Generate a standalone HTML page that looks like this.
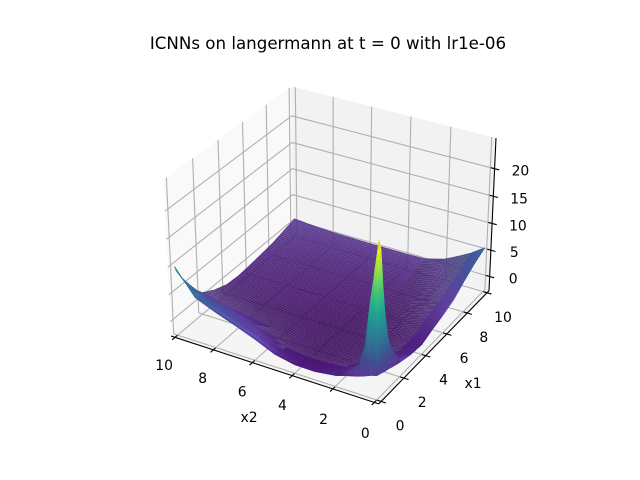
<!DOCTYPE html>
<html>
<head>
<meta charset="utf-8">
<title>ICNNs on langermann</title>
<style>
html,body{margin:0;padding:0;background:#fff;width:640px;height:480px;overflow:hidden}
svg{display:block}
text{font-family:"DejaVu Sans","Liberation Sans",sans-serif;fill:#000}
</style>
</head>
<body>
<svg id="chart" width="640" height="480" viewBox="0 0 640 480" xmlns="http://www.w3.org/2000/svg">
<rect width="640" height="480" fill="#fff"/>
<text x="328" y="49" font-size="16.67" text-anchor="middle">ICNNs on langermann at t = 0 with lr1e-06</text>
<text x="249" y="422" font-size="13.9" text-anchor="middle">x2</text>
<text x="473" y="388" font-size="13.9" text-anchor="middle">x1</text>
</svg>
<script>
const x2Ticks = [0, 2, 4, 6, 8, 10];
const x1Ticks = [0, 2, 4, 6, 8, 10];
const zTicks = [0, 5, 10, 15, 20];
const x2Grid = [0, 0.05, 0.25, 0.45, 0.65, 0.95, 1.25, 2, 3, 4, 5, 6, 7, 8, 9, 10];
const x1Grid = [0, 0.1, 0.3, 0.5, 0.7, 1, 1.3, 2, 3, 4, 5, 6, 7, 8, 9, 10];
const zValues = [
[1.7,1.6,1.4,1.1,0.8,0.4,0.1,-0.7,-1.2,-1.15,-0.4,1.2,2.6,3.9,5.4,10],
[1.6,24.9,19,13,6,2.3,1.1,-0.8,-1.3,-1.3,-0.5,1.1,2.5,3.8,5.2,9],
[1.4,22.9,14,9,4.5,1.9,0.8,-0.9,-1.4,-1.4,-0.6,1,2.4,3.7,5,8],
[1.2,16.5,10,6.5,3.2,1.4,0.5,-1,-1.5,-1.5,-0.8,0.7,2.1,3.4,4.8,7],
[1,11.5,7,4.5,2.2,1,0.2,-1.1,-1.6,-1.6,-1,0.5,1.8,3.1,4.4,6],
[0.8,6.5,4,2.6,1.3,0.5,-0.1,-1.3,-1.7,-1.8,-1.2,-0.1,1,2.2,3.4,4.6],
[0.5,4,2.2,1.3,0.7,0.1,-0.4,-1.5,-1.9,-1.9,-1.5,-0.6,0.4,1.3,2.4,3.4],
[-0.1,0.5,0.2,0,-0.2,-0.6,-1,-1.7,-2,-2.1,-1.9,-1.4,-0.8,-0.2,0.5,1.4],
[-0.7,-0.7,-0.8,-0.9,-1,-1.2,-1.4,-1.9,-2.1,-2.1,-2.1,-1.8,-1.5,-1.1,-0.6,0],
[-0.95,-1,-1.1,-1.2,-1.3,-1.5,-1.6,-2,-2.1,-2.16,-2.16,-2,-1.8,-1.6,-1.3,-0.9],
[-0.1,-0.2,-0.4,-0.6,-0.7,-1,-1.2,-1.8,-2,-2.1,-2.1,-2,-1.8,-1.6,-1.4,-1.1],
[0.6,0.6,0.4,0.2,0,-0.3,-0.7,-1.4,-1.8,-1.9,-1.9,-1.8,-1.7,-1.5,-1.3,-0.9],
[1.5,1.5,1.2,0.9,0.6,0.2,-0.2,-1,-1.4,-1.6,-1.6,-1.5,-1.4,-1.2,-1,-0.6],
[3.1,3,2.5,2.1,1.7,1.1,0.6,-0.4,-1,-1.2,-1.2,-1.1,-1,-0.9,-0.6,-0.3],
[4.5,4.4,3.9,3.4,2.9,2.3,1.8,0.5,-0.4,-0.6,-0.6,-0.6,-0.5,-0.4,-0.2,0.3],
[5.6,5.5,5,4.5,4,3.4,2.8,1.4,0.4,0.3,0.3,0.3,0.35,0.4,0.6,0.9]
];
const viridisStops = [[62,12,98],[84,56,140],[62,74,137],[49,104,142],[38,130,142],[31,158,137],[53,183,121],[110,206,88],[181,222,43],[253,231,37]];

const svg = document.getElementById('chart');
const NS = 'http://www.w3.org/2000/svg';
const allZ = zValues.flat();
const zMin = Math.min(...allZ), zMax = Math.max(...allZ);
const zPad = (zMax - zMin) / 48;
const zLo = zMin - zPad, zHi = zMax + zPad;
const x2Pad = (x2Grid[x2Grid.length-1] - x2Grid[0]) / 48;
const x2Lo = x2Grid[0] - x2Pad, x2Hi = x2Grid[x2Grid.length-1] + x2Pad;
const x1Pad = (x1Grid[x1Grid.length-1] - x1Grid[0]) / 48;
const x1Lo = x1Grid[0] - x1Pad, x1Hi = x1Grid[x1Grid.length-1] + x1Pad;

const boxScale = 1.8294640721620434 * 25 / 24 / Math.sqrt(41);
const box = [4*boxScale, 4*boxScale, 3*boxScale];
const R = box.map(v => v/2);
const el = 30*Math.PI/180, az = -60*Math.PI/180;
const W = [Math.cos(el)*Math.cos(az), Math.cos(el)*Math.sin(az), Math.sin(el)];
const U = [0.866025, 0.5, 0];
const V = [W[1]*U[2]-W[2]*U[1], W[2]*U[0]-W[0]*U[2], W[0]*U[1]-W[1]*U[0]];
function dot(a,b){ return a[0]*b[0]+a[1]*b[1]+a[2]*b[2]; }
function xScale(x2){ return (x2Hi-x2)/(x2Hi-x2Lo)*box[0]; }
function yScale(x1){ return (x1-x1Lo)/(x1Hi-x1Lo)*box[1]; }
function zScale(z){ return (z-zLo)/(zHi-zLo)*box[2]; }
function projectBox(b){
  const d = [b[0]-R[0], b[1]-R[1], b[2]-R[2]];
  const den = 10 - dot(W,d);
  const px = 143.2 + (dot(U,d)/den + 0.095)/0.185*369.6;
  const py = 480 - (52.8 + (dot(V,d)/den + 0.095)/0.185*369.6);
  return [px, py, dot(W,d)];
}
function project(x2,x1,z){ return projectBox([xScale(x2), yScale(x1), zScale(z)]); }

function colorAt(t, fac){
  const s = Math.max(0, Math.min(0.9999, t)) * (viridisStops.length-1);
  const i = Math.floor(s), f = s-i;
  const a = viridisStops[i], b = viridisStops[i+1];
  const c = [0,1,2].map(k => Math.min(255, Math.round((a[k]+(b[k]-a[k])*f)*fac)));
  return 'rgb('+c[0]+','+c[1]+','+c[2]+')';
}

function addLine(p, q, stroke, width, name){
  const l = document.createElementNS(NS,'line');
  l.setAttribute('x1',p[0].toFixed(2));
  l.setAttribute('y1',p[1].toFixed(2));
  l.setAttribute('x2',q[0].toFixed(2));
  l.setAttribute('y2',q[1].toFixed(2));
  l.setAttribute('stroke',stroke);
  l.setAttribute('stroke-width',width);
  
  
  svg.appendChild(l);
}
function addPane(pts, fill, name){
  const g = document.createElementNS(NS,'polygon');
  g.setAttribute('points', pts.map(p => p[0].toFixed(2)+','+p[1].toFixed(2)).join(' '));
  g.setAttribute('fill', fill);
  
  
  svg.appendChild(g);
}
function addLabel(x, y, str, anchor, name){
  const t = document.createElementNS(NS,'text');
  t.setAttribute('x', x.toFixed(1));
  t.setAttribute('y', y.toFixed(1));
  t.setAttribute('font-size', '13.9');
  t.setAttribute('text-anchor', anchor);
  t.textContent = str;
  
  
  svg.appendChild(t);
}

// panes
addPane([project(x2Hi,x1Lo,zLo),project(x2Hi,x1Hi,zLo),project(x2Hi,x1Hi,zHi),project(x2Hi,x1Lo,zHi)],'#f9f9f9','left-pane');
addPane([project(x2Hi,x1Hi,zLo),project(x2Lo,x1Hi,zLo),project(x2Lo,x1Hi,zHi),project(x2Hi,x1Hi,zHi)],'#f2f2f2','back-pane');
addPane([project(x2Hi,x1Lo,zLo),project(x2Lo,x1Lo,zLo),project(x2Lo,x1Hi,zLo),project(x2Hi,x1Hi,zLo)],'#f5f5f5','floor-pane');

// grid lines
const gridColor = '#b0b0b0';
x2Ticks.forEach(v => {
  addLine(project(v,x1Lo,zLo),project(v,x1Hi,zLo),gridColor,1.1,'x2-grid-floor');
  addLine(project(v,x1Hi,zLo),project(v,x1Hi,zHi),gridColor,1.1,'x2-grid-wall');
});
x1Ticks.forEach(v => {
  addLine(project(x2Lo,v,zLo),project(x2Hi,v,zLo),gridColor,1.1,'x1-grid-floor');
  addLine(project(x2Hi,v,zLo),project(x2Hi,v,zHi),gridColor,1.1,'x1-grid-wall');
});
zTicks.forEach(v => {
  addLine(project(x2Hi,x1Lo,v),project(x2Hi,x1Hi,v),gridColor,1.1,'z-grid-left');
  addLine(project(x2Hi,x1Hi,v),project(x2Lo,x1Hi,v),gridColor,1.1,'z-grid-back');
});

// axis lines
addLine(project(x2Hi,x1Lo,zLo),project(x2Lo,x1Lo,zLo),'#000',1.1,'x2-axis-line');
addLine(project(x2Lo,x1Lo,zLo),project(x2Lo,x1Hi,zLo),'#000',1.1,'x1-axis-line');
addLine(project(x2Lo,x1Hi,zLo),project(x2Lo,x1Hi,zHi),'#000',1.1,'z-axis-line');

// ticks and labels
const x2Span = x2Hi-x2Lo, x1Span = x1Hi-x1Lo;
x2Ticks.forEach(v => {
  addLine(project(v,x1Lo-0.022*x1Span,zLo),project(v,x1Lo+0.018*x1Span,zLo),'#000',1.1,'x2-tick');
  const p = project(v,x1Lo,zLo);
  const t = v/10;
  addLabel(p[0]-9-2*t, p[1]+35.5-3*t, String(v), 'middle', 'x2-tick-label');
});
x1Ticks.forEach(v => {
  addLine(project(x2Lo-0.022*x2Span,v,zLo),project(x2Lo+0.018*x2Span,v,zLo),'#000',1.1,'x1-tick');
  const p = project(x2Lo,v,zLo);
  const t = v/10;
  addLabel(p[0]+19-3*t, p[1]+29, String(v), 'middle', 'x1-tick-label');
});
zTicks.forEach(v => {
  addLine(project(x2Lo+0.018*x2Span,x1Hi,v),project(x2Lo-0.022*x2Span,x1Hi,v),'#000',1.1,'z-tick');
  const p = project(x2Lo,x1Hi,v);
  addLabel(p[0]+(v>=10?17:19), p[1]+7, String(v), 'start', 'z-tick-label');
});

// surface facets: every facet reads its height from zValues through the axis functions
function zAt(i,fi,j,fj){
  const i2 = Math.min(i+1, x1Grid.length-1), j2 = Math.min(j+1, x2Grid.length-1);
  const a = zValues[i][j], b = zValues[i][j2], c = zValues[i2][j], d = zValues[i2][j2];
  return (a*(1-fj)+b*fj)*(1-fi) + (c*(1-fj)+d*fj)*fi;
}
function samples(grid, jump){
  const out = [];
  for (let k=0;k<grid.length-1;k++){
    const n = Math.max(1, Math.ceil((grid[k+1]-grid[k])/0.125-1e-6), Math.ceil(jump(k)/1.5));
    for (let s=0;s<n;s++) out.push({k:k, f:s/n, v:grid[k]+(grid[k+1]-grid[k])*s/n});
  }
  out.push({k:grid.length-1, f:0, v:grid[grid.length-1]});
  return out;
}
function rowJump(k){
  let m = 0;
  for (let j=0;j<x2Grid.length;j++) m = Math.max(m, Math.abs(zValues[k+1][j]-zValues[k][j]));
  return m;
}
function colJump(k){
  let m = 0;
  for (let i=0;i<x1Grid.length;i++) m = Math.max(m, Math.abs(zValues[i][k+1]-zValues[i][k]));
  return m;
}
function screenArea(p){
  let a = 0;
  for (let k=0;k<4;k++){
    const n = p[(k+1)%4];
    a += p[k][0]*n[1]-n[0]*p[k][1];
  }
  return Math.abs(a)/2;
}
const s1 = samples(x1Grid, rowJump), s2 = samples(x2Grid, colJump);
const heights = s1.map(a => s2.map(b => zAt(a.k,a.f,b.k,b.f)));
const facets = [];
const light = [-0.667,-0.667,0.333];
for (let i=0;i<s1.length-1;i++){
  for (let j=0;j<s2.length-1;j++){
    const h00=heights[i][j], h01=heights[i][j+1], h10=heights[i+1][j], h11=heights[i+1][j+1];
    const p = [project(s2[j].v,s1[i].v,h00),project(s2[j+1].v,s1[i].v,h01),project(s2[j+1].v,s1[i+1].v,h11),project(s2[j].v,s1[i+1].v,h10)];
    const dzdx2 = ((h01-h00)+(h11-h10))/2/(s2[j+1].v-s2[j].v);
    const dzdx1 = ((h10-h00)+(h11-h01))/2/(s1[i+1].v-s1[i].v);
    const nlen = Math.sqrt(dzdx2*dzdx2+dzdx1*dzdx1+1);
    const shade = (-dzdx2*light[0]-dzdx1*light[1]+light[2])/nlen;
    let fac = Math.max(0.92, Math.min(1.05, 0.95+0.5*(shade-0.33)));
    const mean = (h00+h01+h10+h11)/4;
    const depth = (p[0][2]+p[1][2]+p[2][2]+p[3][2])/4;
    const nearSpike = s1[i].v + s2[j].v < 2;
    const area = screenArea(p);
    const thin = area < (nearSpike ? 6 : 2.5);
    if (thin && !nearSpike) fac *= 1.22;
    facets.push({p:p, depth:depth, thin:thin, color:colorAt((mean-zMin)/(zMax-zMin), fac)});
  }
}
facets.sort((a,b)=>a.depth-b.depth);
const surfaceGroup = document.createElementNS(NS,'g');


facets.forEach(f => {
  const poly = document.createElementNS(NS,'polygon');
  poly.setAttribute('points', f.p.map(q => q[0].toFixed(2)+','+q[1].toFixed(2)).join(' '));
  poly.setAttribute('fill', f.color);
  if (f.thin) {
    poly.setAttribute('stroke', f.color);
    poly.setAttribute('stroke-width', '0.5');
  } else {
    poly.setAttribute('fill-opacity', '0.95');
  }
  
  
  surfaceGroup.appendChild(poly);
});
svg.appendChild(surfaceGroup);
</script>
</body>
</html>
